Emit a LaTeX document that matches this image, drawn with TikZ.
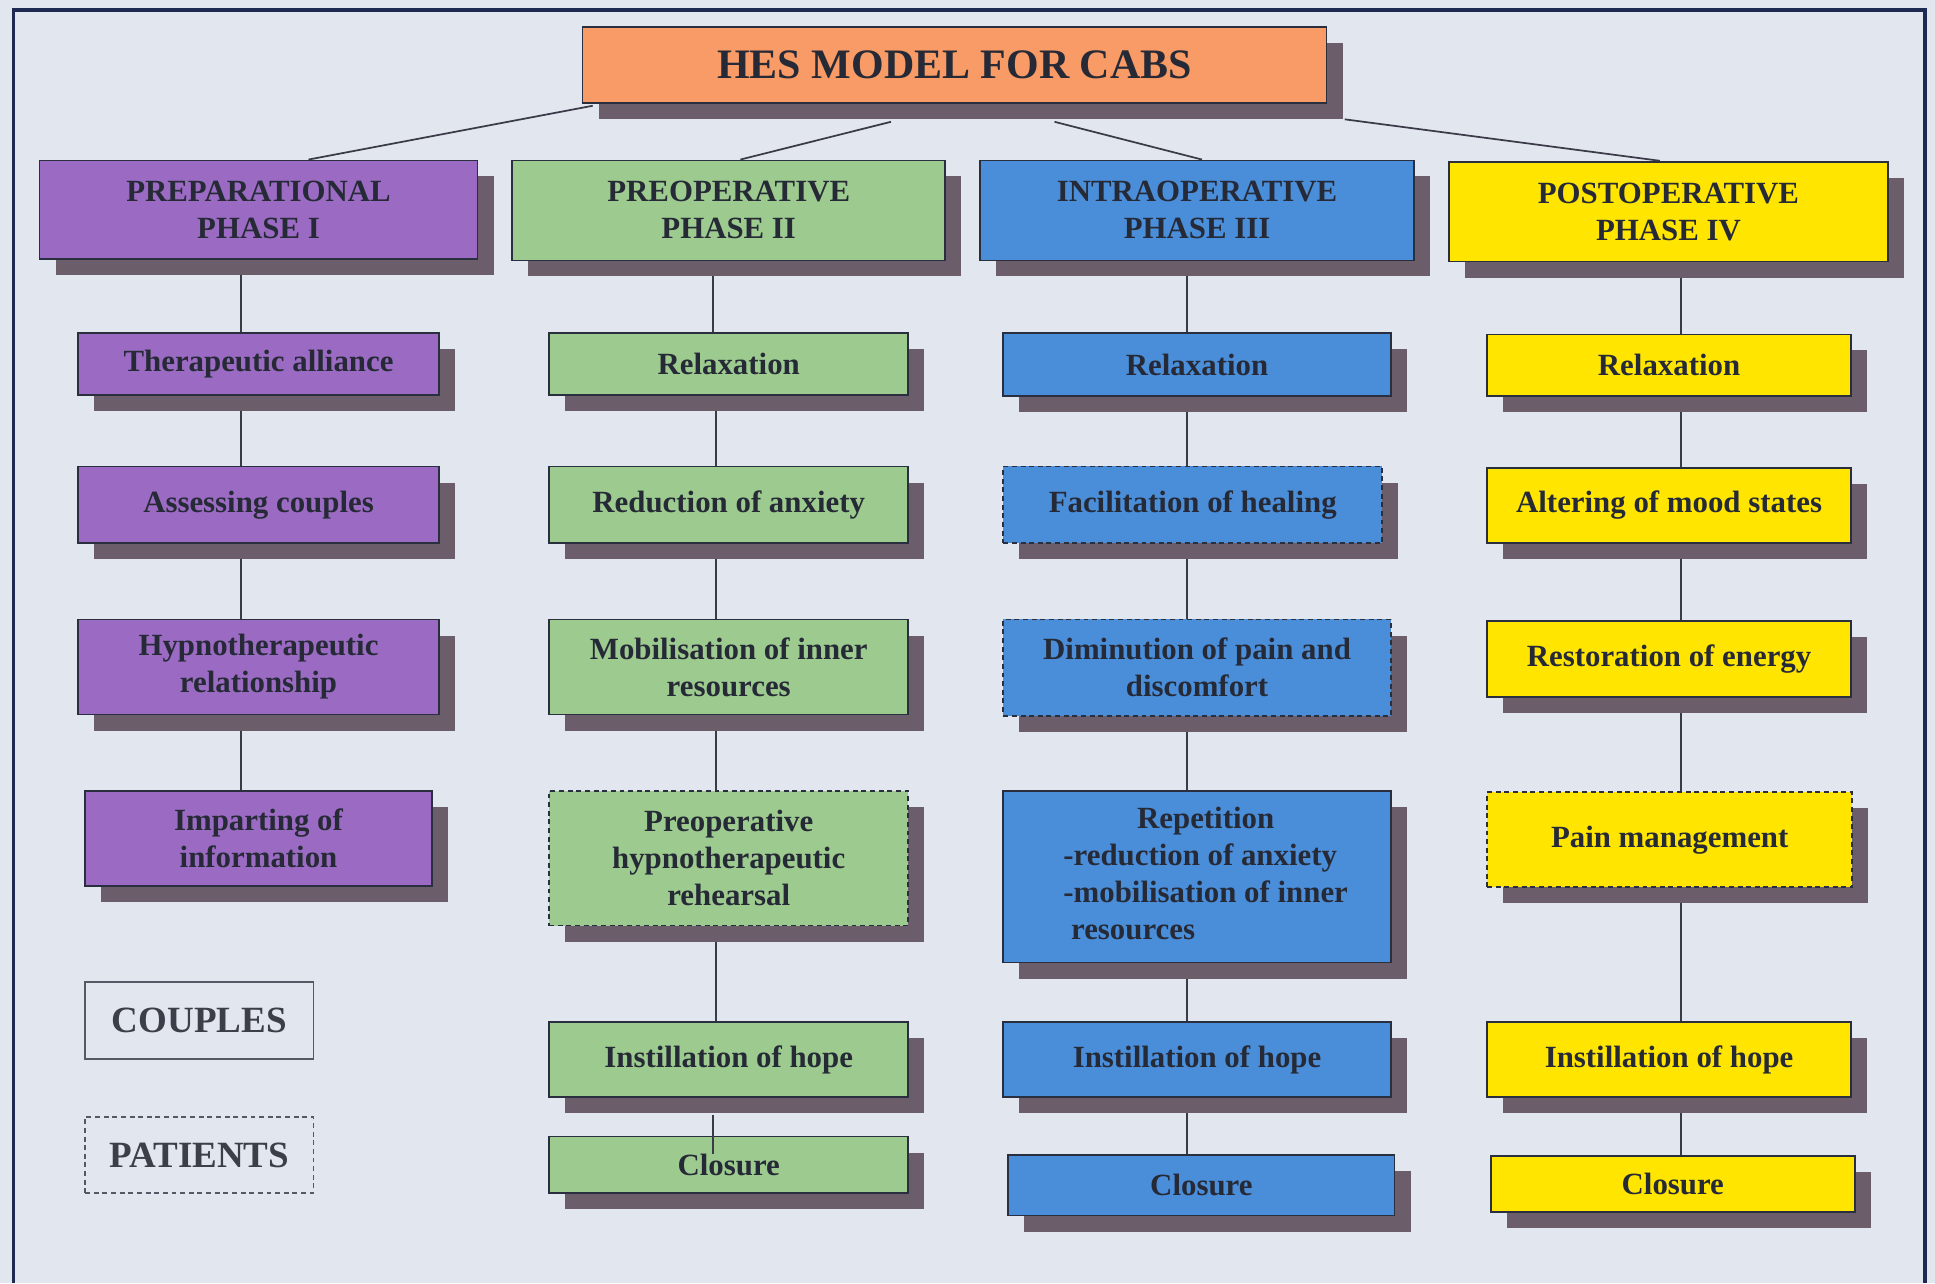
\documentclass[tikz,border=0pt]{standalone}
\usepackage{fontspec}
\setmainfont{Liberation Serif}
\usetikzlibrary{shadows,backgrounds,calc}
\definecolor{bgc}{HTML}{E2E6EE}
\definecolor{framec}{HTML}{1E2A52}
\definecolor{cOrange}{HTML}{F99B66}
\definecolor{cPurple}{HTML}{9B6BC3}
\definecolor{cGreen}{HTML}{9DCB8F}
\definecolor{cBlue}{HTML}{4A8EDA}
\definecolor{cYellow}{HTML}{FFE500}
\definecolor{shadc}{HTML}{6C5D6A}
\definecolor{boxline}{HTML}{2A2F40}
\definecolor{lnc}{HTML}{3A3A48}
\definecolor{txt}{HTML}{262A36}
\tikzset{
  box/.style={draw=boxline, line width=1.4pt, inner sep=0pt, text=txt,
    font={\bfseries\fontsize{25}{30}\selectfont}, align=center,
    general shadow={fill=shadc, draw=none, shadow xshift=13pt, shadow yshift=-13pt}},
  patientbox/.style={dash pattern=on 4pt off 3pt},
  purplebox/.style={fill=cPurple},
  greenbox/.style={fill=cGreen},
  bluebox/.style={fill=cBlue},
  yellowbox/.style={fill=cYellow},
  orangebox/.style={fill=cOrange},
  conn/.style={draw=lnc, line width=1.4pt},
  legend/.style={draw=boxline!80, line width=1.4pt, inner sep=0pt, text=txt!90,
    font={\bfseries\fontsize{30}{34}\selectfont}, fill=bgc}
}
\newcommand\hesbox[7]{\node[box,#6,minimum width={(#4-#2)*1pt},minimum height={(#5-#3)*1pt}] (#1) at ({(#2+#4)/2},{(#3+#5)/2}) {#7};}
\newcommand\heslegend[7]{\node[legend,#6,minimum width={(#4-#2)*1pt},minimum height={(#5-#3)*1pt}] (#1) at ({(#2+#4)/2},{(#3+#5)/2}) {#7};}
\begin{document}
\begin{tikzpicture}[x=1pt,y=-1pt]
\useasboundingbox (0,0) rectangle (1568,1040);
\begin{scope}[on background layer]
  \fill[bgc] (0,0) rectangle (1568,1040);
\end{scope}

% title and phases
\hesbox{title}{472}{22}{1075}{83.5}{orangebox,font={\bfseries\fontsize{34}{40}\selectfont}}{HES MODEL FOR CABS}
\hesbox{p1}{32}{130}{387}{210}{purplebox}{PREPARATIONAL\\PHASE I}
\hesbox{p2}{415}{130}{766}{211}{greenbox}{PREOPERATIVE\\PHASE II}
\hesbox{p3}{794}{130}{1146}{211}{bluebox}{INTRAOPERATIVE\\PHASE III}
\hesbox{p4}{1174}{131}{1530}{212}{yellowbox}{POSTOPERATIVE\\PHASE IV}

% column 1
\hesbox{a1}{63}{270}{356}{320}{purplebox}{Therapeutic alliance}
\hesbox{a2}{63}{378}{356}{440}{purplebox}{Assessing couples}
\hesbox{a3}{63}{502}{356}{579}{purplebox}{Hypnotherapeutic\\relationship}
\hesbox{a4}{69}{641}{350}{718}{purplebox}{Imparting of\\information}

% column 2
\hesbox{b1}{445}{270}{736}{320}{greenbox}{Relaxation}
\hesbox{b2}{445}{378}{736}{440}{greenbox}{Reduction of anxiety}
\hesbox{b3}{445}{502}{736}{579}{greenbox}{Mobilisation of inner\\resources}
\hesbox{b4}{445}{641}{736}{750}{greenbox,patientbox}{Preoperative\\hypnotherapeutic\\rehearsal}
\hesbox{b5}{445}{828}{736}{889}{greenbox}{Instillation of hope}
\hesbox{b6}{445}{921}{736}{967}{greenbox}{Closure}

% column 3
\hesbox{c1}{813}{270}{1127}{321}{bluebox}{Relaxation}
\hesbox{c2}{813}{378}{1120}{440}{bluebox,patientbox}{Facilitation of healing}
\hesbox{c3}{813}{502}{1127}{580}{bluebox,patientbox}{Diminution of pain and\\discomfort}
\hesbox{c4}{813}{641}{1127}{780}{bluebox}{\hspace*{14pt}\begin{tabular}{@{}l@{}}\multicolumn{1}{@{}c@{}}{Repetition}\\-reduction of anxiety\\-mobilisation of inner\\\ resources\end{tabular}}
\hesbox{c5}{813}{828}{1127}{889}{bluebox}{Instillation of hope}
\hesbox{c6}{817}{936}{1130}{985}{bluebox}{Closure}

% column 4
\hesbox{d1}{1205}{271}{1500}{321}{yellowbox}{Relaxation}
\hesbox{d2}{1205}{379}{1500}{440}{yellowbox}{Altering of mood states}
\hesbox{d3}{1205}{503}{1500}{565}{yellowbox}{Restoration of energy}
\hesbox{d4}{1205}{642}{1501}{719}{yellowbox,patientbox}{Pain management}
\hesbox{d5}{1205}{828}{1500}{889}{yellowbox}{Instillation of hope}
\hesbox{d6}{1208}{937}{1503}{982}{yellowbox}{Closure}

% legend
\heslegend{couples}{69}{796}{254}{858}{}{COUPLES}
\heslegend{patients}{69}{905}{254}{967}{patientbox}{PATIENTS}

% connectors
\coordinate (X1) at (195,0);
\coordinate (X2) at (580,0);
\coordinate (X2b) at (578,0);
\coordinate (X3) at (962,0);
\coordinate (X4) at (1362,0);
\begin{scope}[on background layer]
  \draw[conn] ($(title.south west)+(9,1.5)$) -- ($(p1.north)+(40.5,0)$);
  \draw[conn] ($(title.south)+(-51.5,14.5)$) -- ($(p2.north)+(9.5,0)$);
  \draw[conn] ($(title.south)+(81,14.5)$) -- ($(p3.north)+(4,0)$);
  \draw[conn] ($(title.south east)+(14,12.5)$) -- ($(p4.north)+(-7,0)$);
  \draw[conn] (p1.south -| X1) -- (a1.north -| X1);
  \draw[conn] (a1.south -| X1) -- (a2.north -| X1);
  \draw[conn] (a2.south -| X1) -- (a3.north -| X1);
  \draw[conn] (a3.south -| X1) -- (a4.north -| X1);
  \draw[conn] (p2.south -| X2b) -- (b1.north -| X2b);
  \draw[conn] (b1.south -| X2) -- (b2.north -| X2);
  \draw[conn] (b2.south -| X2) -- (b3.north -| X2);
  \draw[conn] (b3.south -| X2) -- (b4.north -| X2);
  \draw[conn] (b4.south -| X2) -- (b5.north -| X2);
  \draw[conn] (p3.south -| X3) -- (c1.north -| X3);
  \draw[conn] (c1.south -| X3) -- (c2.north -| X3);
  \draw[conn] (c2.south -| X3) -- (c3.north -| X3);
  \draw[conn] (c3.south -| X3) -- (c4.north -| X3);
  \draw[conn] (c4.south -| X3) -- (c5.north -| X3);
  \draw[conn] (c5.south -| X3) -- (c6.north -| X3);
  \draw[conn] (p4.south -| X4) -- (d1.north -| X4);
  \draw[conn] (d1.south -| X4) -- (d2.north -| X4);
  \draw[conn] (d2.south -| X4) -- (d3.north -| X4);
  \draw[conn] (d3.south -| X4) -- (d4.north -| X4);
  \draw[conn] (d4.south -| X4) -- (d5.north -| X4);
  \draw[conn] (d5.south -| X4) -- (d6.north -| X4);
\end{scope}
\draw[conn] ($(b5.south -| X2b)+(0,14)$) -- ($(b6.north -| X2b)+(0,15)$);

% frame
\draw[framec, line width=3pt] (11,1040) -- (11,8) -- (1560,8) -- (1560,1040);
\end{tikzpicture}
\end{document}
